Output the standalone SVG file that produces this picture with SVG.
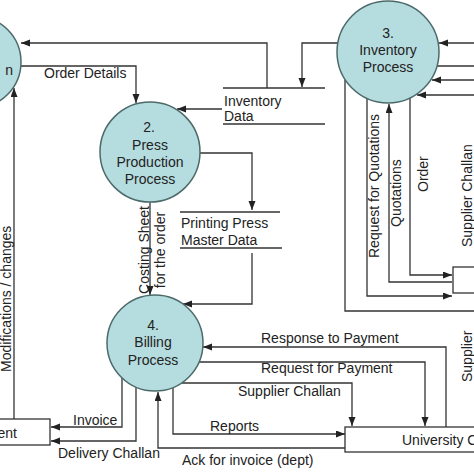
<svg xmlns="http://www.w3.org/2000/svg" width="474" height="474" viewBox="0 0 474 474">
<style>
.p{fill:#b5dcdf;stroke:#4d6a6a;stroke-width:1.5}
.c{fill:none;stroke:#333;stroke-width:1.3}
.a{marker-end:url(#ah)}
.s{fill:none;stroke:#333;stroke-width:1.3}
.b{fill:#fff;stroke:#333;stroke-width:1.3}
text{font-family:"Liberation Sans",Arial,sans-serif;font-size:14px;fill:#222}
.m{text-anchor:middle}
</style>
<defs>
<marker id="ah" markerUnits="userSpaceOnUse" markerWidth="10" markerHeight="8" refX="9" refY="3.5" orient="auto">
<path d="M0,0 L9,3.5 L0,7 z" fill="#222"/>
</marker>
</defs>
<rect width="474" height="474" fill="#fff"/>
<g id="connectors">
<!-- Inventory Data -> P1 -->
<polyline class="c a" points="267,88 267,43 21,43"/>
<!-- P3 -> Inventory Data -->
<polyline class="c a" points="338,43 302,43 302,87"/>
<!-- Order Details -->
<polyline class="c a" points="21,66 136,66 136,103"/>
<!-- Inventory Data -> P2 -->
<line class="c a" x1="222" y1="109" x2="177" y2="109"/>
<!-- P2 -> Printing Press -->
<polyline class="c a" points="200,153 252,153 252,210"/>
<!-- Printing Press -> P4 -->
<polyline class="c a" points="252,253 252,304 183,304"/>
<!-- Costing sheet -->
<line class="c a" x1="150" y1="202" x2="150" y2="295"/>
<!-- Modifications -->
<line class="c a" x1="14" y1="419" x2="14" y2="88"/>
<!-- Invoice / Delivery -->
<polyline class="c a" points="122,378 122,427 51,427"/>
<polyline class="c a" points="136,387 136,441 51,441"/>
<!-- Response to Payment -->
<polyline class="c a" points="446,427 446,347 203,347"/>
<!-- Request for Payment -->
<polyline class="c a" points="199,362 425,362 425,426"/>
<!-- Supplier Challan -->
<polyline class="c a" points="182,383 352,383 352,426"/>
<!-- Reports -->
<polyline class="c a" points="173,388 173,434 345,434"/>
<!-- Ack -->
<polyline class="c a" points="345,448 158,448 158,392"/>
<!-- P3 right side -->
<line class="c a" x1="474" y1="43" x2="439" y2="43"/>
<line class="c" x1="437" y1="66" x2="474" y2="66"/>
<line class="c a" x1="474" y1="80" x2="432" y2="80"/>
<line class="c a" x1="474" y1="95" x2="417" y2="95"/>
<!-- P3 bottom -->
<polyline class="c" points="345,80 345,311 474,311"/>
<polyline class="c a" points="367,98 367,296 452,296"/>
<polyline class="c a" points="452,282 389,282 389,104"/>
<polyline class="c a" points="410,98 410,275 452,275"/>
</g>
<g id="p1">
<circle class="p" cx="-25" cy="62" r="46"/>
<text x="13" y="75" text-anchor="end">n</text>
</g>
<g id="p2">
<circle class="p" cx="150" cy="152" r="50"/>
<text class="m" x="149" y="132">2.</text>
<text class="m" x="150" y="150">Press</text>
<text class="m" x="150" y="167">Production</text>
<text class="m" x="150" y="184">Process</text>
</g>
<g id="p3">
<circle class="p" cx="388" cy="52" r="51"/>
<text class="m" x="388" y="38">3.</text>
<text class="m" x="388" y="55">Inventory</text>
<text class="m" x="388" y="72">Process</text>
</g>
<g id="p4">
<circle class="p" cx="155" cy="343" r="48"/>
<text class="m" x="153" y="330">4.</text>
<text class="m" x="153" y="347">Billing</text>
<text class="m" x="153" y="365">Process</text>
</g>
<g id="store-inventory">
<line class="s" x1="223" y1="88" x2="325" y2="88"/>
<line class="s" x1="223" y1="124" x2="325" y2="124"/>
<text x="224" y="106">Inventory</text>
<text x="224" y="121">Data</text>
</g>
<g id="store-printing">
<line class="s" x1="180" y1="212" x2="280" y2="212"/>
<line class="s" x1="180" y1="248" x2="282" y2="248"/>
<text x="181" y="228">Printing Press</text>
<text x="181" y="245">Master Data</text>
</g>
<g id="department">
<rect class="b" x="-10" y="419" width="60" height="26"/>
<text x="17" y="438" text-anchor="end">ent</text>
</g>
<g id="university">
<rect class="b" x="345" y="427" width="140" height="25"/>
<text x="402" y="445">University C</text>
</g>
<g id="supplier">
<rect class="b" x="453" y="267" width="40" height="26"/>
</g>
<g id="labels">
<text x="44" y="78">Order Details</text>
<text x="261" y="343">Response to  Payment</text>
<text x="261" y="373">Request for Payment</text>
<text x="238" y="396">Supplier Challan</text>
<text x="210" y="431">Reports</text>
<text x="182" y="465">Ack for invoice (dept)</text>
<text x="73" y="425">Invoice</text>
<text x="58" y="458">Delivery Challan</text>
<text transform="translate(149,250) rotate(-90)" class="m">Costing Sheet</text>
<text transform="translate(165,250) rotate(-90)" class="m">for the order</text>
<text transform="translate(11,372) rotate(-90)">Modifications / changes</text>
<text transform="translate(379,258) rotate(-90)">Request for Quotations</text>
<text transform="translate(401,227) rotate(-90)">Quotations</text>
<text transform="translate(428,192) rotate(-90)">Order</text>
<text transform="translate(472,247) rotate(-90)">Supplier  Challan</text>
<text transform="translate(472,382) rotate(-90)">Supplier</text>
</g>
</svg>
